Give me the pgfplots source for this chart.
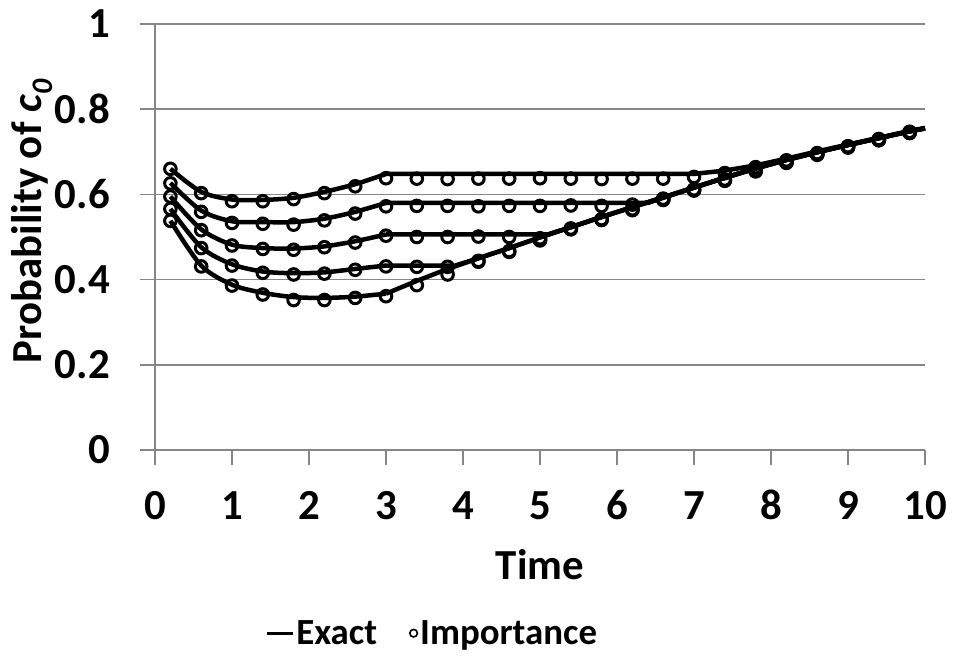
\documentclass[border=0pt]{standalone}
\usepackage{pgfplots}
\pgfplotsset{compat=1.18}
\usepackage{fontspec}
\setmainfont{Carlito}[Numbers=Lining]
\definecolor{gridgray}{RGB}{134,134,134}
\newcommand{\bigfont}{\fontsize{43}{50}\selectfont\bfseries}
\newcommand{\legfont}{\fontsize{37}{44}\selectfont\bfseries}
\begin{document}
\begin{tikzpicture}
\begin{axis}[
  scale only axis, width=770bp, height=426bp,
  xmin=0, xmax=10, ymin=0, ymax=1,
  xtick={0,1,...,10}, ytick={0,0.2,...,1},
  axis x line*=bottom, axis y line*=left,
  axis line style={gridgray, line width=1.5bp},
  ymajorgrids, grid style={gridgray, line width=1.5bp},
  tick align=outside, major tick length=15bp,
  tick style={gridgray, line width=1.5bp},
  /pgf/number format/assume math mode=true,
  tick label style={font=\bigfont, inner sep=0pt},
  yticklabel style={xshift=-30bp},
  xticklabel style={yshift=-27bp, text height=27bp, text depth=0pt},
  xlabel={Time},
  ylabel={Probability of \textit{c}\textsubscript{\textit{\fontsize{30}{34}\selectfont 0}}},
  label style={font=\bigfont},
  xlabel style={at={(axis description cs:0.5,-0.27)}, anchor=center},
  ylabel style={at={(axis description cs:-0.16,0.5376)}, anchor=center, rotate=0},
  clip=false,
  legend style={at={(axis description cs:0.36,-0.43)}, anchor=center, draw=none, fill=none,
    font=\legfont, legend columns=2, inner sep=0pt,
    /tikz/every even column/.append style={column sep=30bp}},
  legend cell align=left,
]
% Exact, smooth part up to t=3
\addplot[black, line width=4.5bp, smooth, forget plot] coordinates {(0.2,0.660)(0.6,0.606)(1.0,0.588)(1.4,0.587)(1.8,0.592)(2.2,0.606)(2.6,0.624)(3.0,0.648)};
\addplot[black, line width=4.5bp, smooth, forget plot] coordinates {(0.2,0.627)(0.6,0.562)(1.0,0.537)(1.4,0.535)(1.8,0.535)(2.2,0.543)(2.6,0.559)(3.0,0.580)};
\addplot[black, line width=4.5bp, smooth, forget plot] coordinates {(0.2,0.595)(0.6,0.518)(1.0,0.482)(1.4,0.474)(1.8,0.473)(2.2,0.478)(2.6,0.490)(3.0,0.506)};
\addplot[black, line width=4.5bp, smooth, forget plot] coordinates {(0.2,0.566)(0.6,0.476)(1.0,0.436)(1.4,0.419)(1.8,0.415)(2.2,0.417)(2.6,0.425)(3.0,0.433)};
\addplot[black, line width=4.5bp, smooth, forget plot] coordinates {(0.2,0.538)(0.6,0.433)(1.0,0.388)(1.4,0.369)(1.8,0.359)(2.2,0.357)(2.6,0.360)(3.0,0.367)};
% Exact, after t=3
\addplot[black, line width=4.5bp, line join=round, forget plot] coordinates {(3.0,0.648)(7.0,0.648)(7.4,0.656)(7.8,0.668)(8.2,0.684)(8.6,0.701)(9.0,0.717)(9.4,0.733)(9.8,0.749)(10,0.756)};
\addplot[black, line width=4.5bp, line join=round, forget plot] coordinates {(3.0,0.580)(6.4,0.580)(6.6,0.592)(7.0,0.616)(7.4,0.639)(7.8,0.661)(8.2,0.681)(8.6,0.699)(9.0,0.716)(9.4,0.732)(9.8,0.748)(10,0.755)};
\addplot[black, line width=4.5bp, line join=round, forget plot] coordinates {(3.0,0.506)(5.1,0.506)(5.4,0.523)(5.8,0.547)(6.2,0.570)(6.6,0.593)(7.0,0.616)(7.4,0.639)(7.8,0.661)(8.2,0.681)(8.6,0.699)(9.0,0.716)(9.4,0.732)(9.8,0.748)(10,0.755)};
\addplot[black, line width=4.5bp, line join=round, forget plot] coordinates {(3.0,0.433)(3.9,0.433)(4.2,0.450)(4.6,0.474)(5.0,0.499)(5.4,0.523)(5.8,0.547)(6.2,0.570)(6.6,0.593)(7.0,0.616)(7.4,0.639)(7.8,0.661)(8.2,0.681)(8.6,0.699)(9.0,0.716)(9.4,0.732)(9.8,0.748)(10,0.755)};
\addplot[black, line width=4.5bp, line join=round, forget plot] coordinates {(3.0,0.367)(3.4,0.397)(3.8,0.425)(4.2,0.450)(4.6,0.474)(5.0,0.499)(5.4,0.523)(5.8,0.547)(6.2,0.570)(6.6,0.593)(7.0,0.616)(7.4,0.639)(7.8,0.661)(8.2,0.681)(8.6,0.699)(9.0,0.716)(9.4,0.732)(9.8,0.748)(10,0.755)};
% Importance
\pgfplotsset{imp/.style={only marks, mark=o, mark size=5.8bp, mark options={black, line width=3bp}, forget plot}}
\addplot[imp] coordinates {(0.2,0.660)(0.6,0.603)(1.0,0.584)(1.4,0.584)(1.8,0.589)(2.2,0.603)(2.6,0.619)(3.0,0.638)(3.4,0.637)(3.8,0.636)(4.2,0.637)(4.6,0.637)(5.0,0.638)(5.4,0.637)(5.8,0.636)(6.2,0.637)(6.6,0.637)(7.0,0.641)(7.4,0.650)(7.8,0.664)(8.2,0.680)(8.6,0.697)(9.0,0.713)(9.4,0.730)(9.8,0.747)};
\addplot[imp] coordinates {(0.2,0.626)(0.6,0.559)(1.0,0.533)(1.4,0.531)(1.8,0.529)(2.2,0.539)(2.6,0.555)(3.0,0.572)(3.4,0.573)(3.8,0.573)(4.2,0.572)(4.6,0.573)(5.0,0.573)(5.4,0.574)(5.8,0.573)(6.2,0.576)(6.6,0.590)(7.0,0.612)(7.4,0.635)(7.8,0.657)(8.2,0.677)(8.6,0.695)(9.0,0.712)(9.4,0.729)(9.8,0.745)};
\addplot[imp] coordinates {(0.2,0.595)(0.6,0.516)(1.0,0.480)(1.4,0.472)(1.8,0.470)(2.2,0.476)(2.6,0.487)(3.0,0.503)(3.4,0.500)(3.8,0.500)(4.2,0.501)(4.6,0.500)(5.0,0.497)(5.4,0.519)(5.8,0.542)(6.2,0.565)(6.6,0.589)(7.0,0.611)(7.4,0.633)(7.8,0.656)(8.2,0.676)(8.6,0.694)(9.0,0.712)(9.4,0.728)(9.8,0.746)};
\addplot[imp] coordinates {(0.2,0.566)(0.6,0.474)(1.0,0.433)(1.4,0.416)(1.8,0.412)(2.2,0.414)(2.6,0.423)(3.0,0.431)(3.4,0.430)(3.8,0.430)(4.2,0.444)(4.6,0.467)(5.0,0.493)(5.4,0.520)(5.8,0.541)(6.2,0.564)(6.6,0.588)(7.0,0.610)(7.4,0.634)(7.8,0.655)(8.2,0.675)(8.6,0.694)(9.0,0.711)(9.4,0.728)(9.8,0.745)};
\addplot[imp] coordinates {(0.2,0.538)(0.6,0.431)(1.0,0.386)(1.4,0.365)(1.8,0.352)(2.2,0.352)(2.6,0.357)(3.0,0.361)(3.4,0.387)(3.8,0.412)(4.2,0.442)(4.6,0.465)(5.0,0.492)(5.4,0.518)(5.8,0.540)(6.2,0.563)(6.6,0.587)(7.0,0.609)(7.4,0.632)(7.8,0.654)(8.2,0.674)(8.6,0.693)(9.0,0.710)(9.4,0.727)(9.8,0.744)};
% legend
\addlegendimage{legend image code/.code={\draw[black, line width=3bp] (0bp,0bp) -- (26bp,0bp);}}
\addlegendentry{Exact}
\addlegendimage{legend image code/.code={\draw[black, line width=1.6bp] (18bp,0bp) circle (3.8bp);}}
\addlegendentry{Importance}
\end{axis}
\path[use as bounding box] (-155bp,-210bp) rectangle (798bp,450bp);
\end{tikzpicture}
\end{document}
